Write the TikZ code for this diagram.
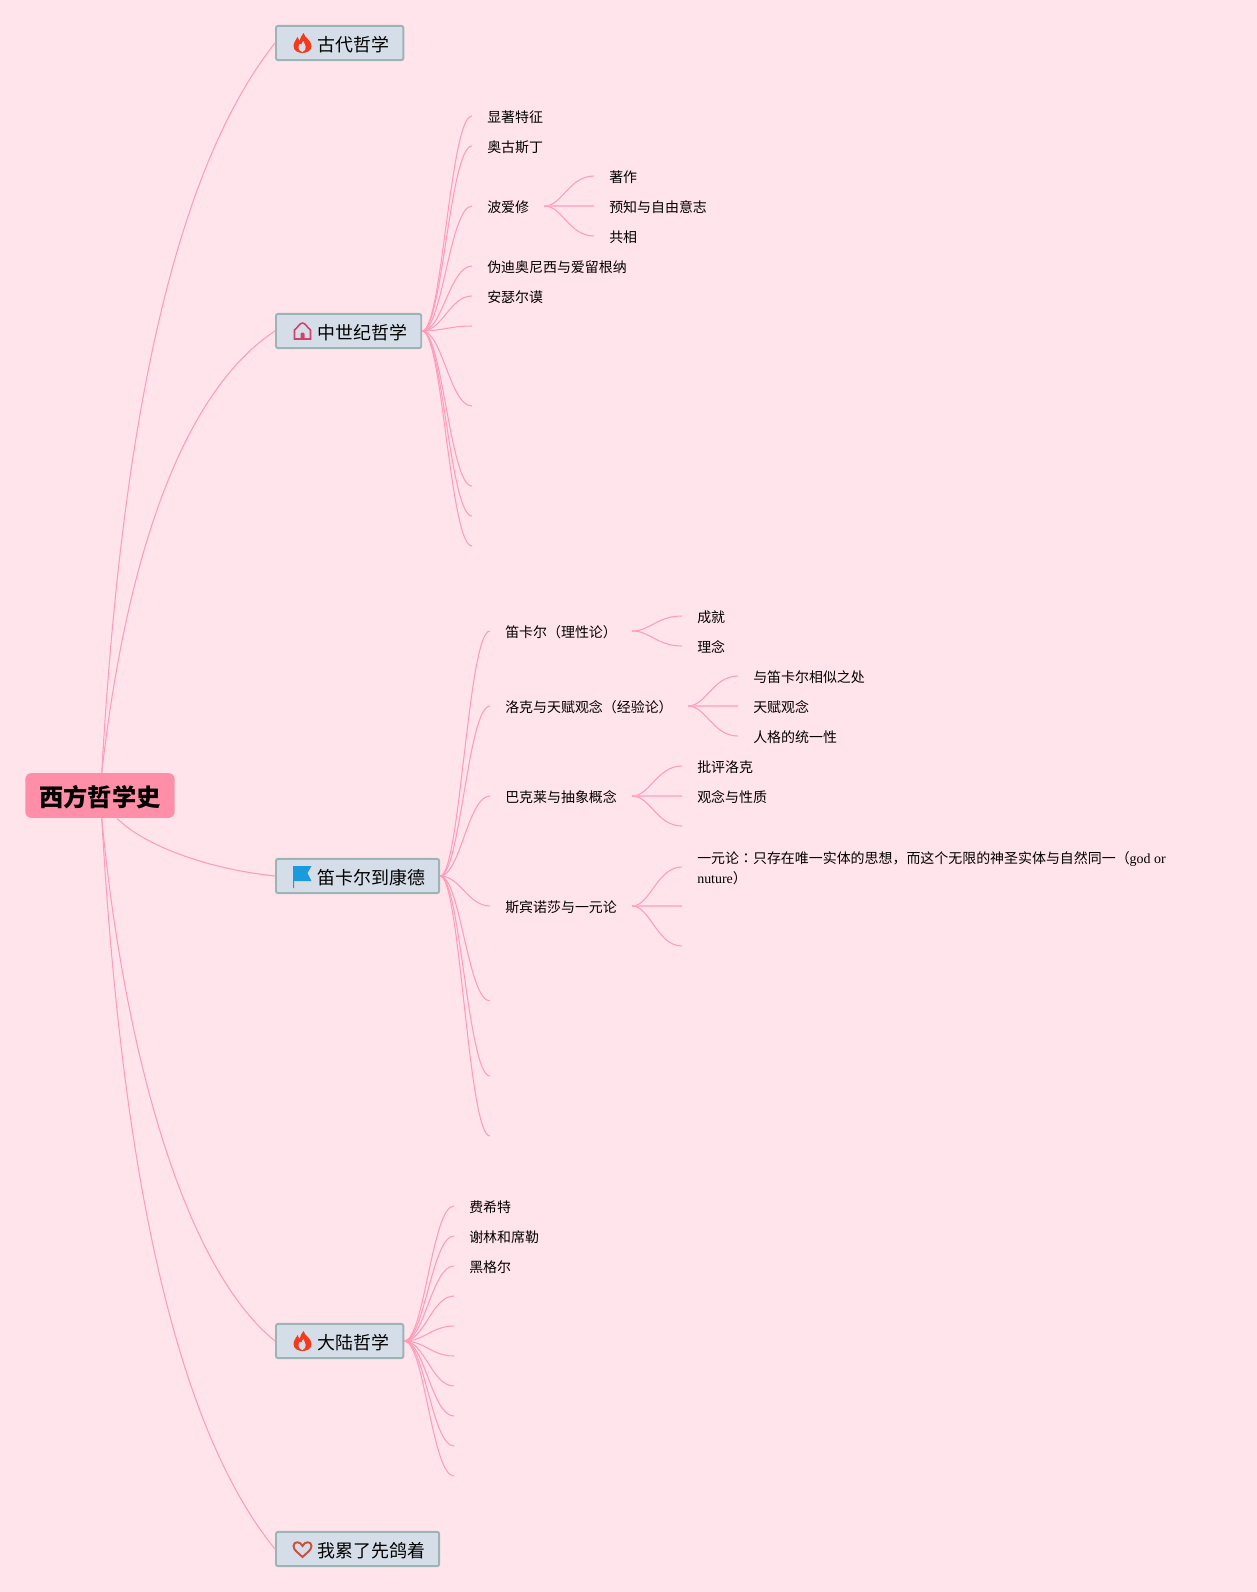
\documentclass[tikz,border=0pt]{standalone}
\usepackage{fontspec}
\setmainfont{Noto Sans CJK SC}
\newfontfamily\latinfont{Liberation Serif}
\newfontfamily\tcfont{Noto Sans CJK TC}
\usepackage{tikz}
\usetikzlibrary{calc}
\definecolor{paper}{HTML}{FFE4EC}
\definecolor{rootpink}{HTML}{FF8FA8}
\definecolor{linepink}{HTML}{FF9DB8}
\definecolor{topicfill}{HTML}{D5DDE8}
\definecolor{topicedge}{HTML}{9BB5B5}
\definecolor{flamered}{HTML}{F5391A}
\definecolor{housered}{HTML}{D4406E}
\definecolor{heartred}{HTML}{C9503F}
\definecolor{flagblue}{HTML}{1B9BDE}
\tikzset{
	rootnode/.style={fill=rootpink,rounded corners=3.4pt,minimum width=85pt,minimum height=25.5pt,inner sep=0pt,text height=13pt,text depth=0pt,font=\fontsize{13.8}{16}\selectfont\bfseries},
	topic/.style={anchor=west,draw=topicedge,fill=topicfill,line width=1.1pt,rounded corners=1.2pt,minimum height=19.5pt,inner ysep=0pt,inner xsep=3.4pt,text height=9.5pt,text depth=0pt,font=\fontsize{10.2}{12}\selectfont,execute at begin node={\hspace{20.4pt}},execute at end node={\hspace{4.5pt}}},
	leaf/.style={anchor=west,inner xsep=8.5pt,inner ysep=0pt,font=\fontsize{7.94}{11.34}\selectfont,text height=7.2pt,text depth=0pt},
	branch/.style={draw=linepink,line width=0.6pt},
	straightbranch/.style={draw=linepink!75,line width=1pt},
	flameicon/.pic={
		\fill[flamered] (1,-10) .. controls (2,-5) and (9,-3) .. (9,3) .. controls (9,8) and (4,10) .. (0,10) .. controls (-4,10) and (-9,8) .. (-9,3) .. controls (-9,-1) and (-6,-3) .. (-5,-6) .. controls (-4,-4) and (-3.5,-3) .. (-3,-2) .. controls (-2,-5) and (-1,-8) .. (1,-10);
		\fill[topicfill] (0,9) .. controls (-4,8) and (-5,4) .. (-3,1) .. controls (-2,2) .. (-1,1.5) .. controls (-1,0) and (0,-1) .. (1,-2) .. controls (2,2) and (6,5) .. (0,9);
	},
	houseicon/.pic={
		\draw[color=housered,line width=0.9pt] (-8,8) -- (-8,-1) .. controls (-5,-3) and (-3,-8) .. (0,-8) .. controls (3,-8) and (5,-3) .. (8,-1) -- (8,8) -- cycle;
		\fill[housered] (-2,8) -- (-2,3) .. controls (-2,1) and (2,1) .. (2,3) -- (2,8) -- cycle;
	},
	hearticon/.pic={
		\draw[color=heartred,line width=1.1pt] (0,8) .. controls (-4,4) and (-9,1) .. (-9,-3) .. controls (-9,-8) and (-2,-8) .. (0,-3) .. controls (2,-8) and (9,-8) .. (9,-3) .. controls (9,1) and (4,4) .. (0,8) -- cycle;
	},
	flagicon/.pic={
		\fill[flagblue] (-9.5,-10) -- (9,-10) -- (5,-3) -- (9,5) -- (-8.5,5) -- (-8.5,12) -- (-9.5,12) -- cycle;
	},
}
\begin{document}
\begin{tikzpicture}[x=0.02cm,y=-0.02cm]
	\fill[paper] (0,0) rectangle (1257,1592);

	% main topics
	\node[rootnode] (Root) at (100,795.5) {西方哲学史};
	\node[topic] (Ancient) at (275,43) {古代哲学};
	\node[topic] (Medieval) at (275,331) {中世纪哲学};
	\node[topic] (Modern) at (275,876) {笛卡尔到康德};
	\node[topic] (Continental) at (275,1341) {大陆哲学};
	\node[topic] (Tired) at (275,1549) {我累了先鸽着};
	\pic at ($(Ancient.west)+(27.5,0)$) {flameicon};
	\pic at ($(Medieval.west)+(27.5,0)$) {houseicon};
	\pic at ($(Modern.west)+(27.5,0)$) {flagicon};
	\pic at ($(Continental.west)+(27.5,0)$) {flameicon};
	\pic at ($(Tired.west)+(27.5,0)$) {hearticon};

	\draw[branch] ([xshift=1pt]Root.north) .. controls +(20,-353) and +(-100,127) .. (Ancient.west);
	\draw[branch] ([xshift=1pt]Root.north) .. controls +(23,-203) and +(-97,64) .. (Medieval.west);
	\draw[branch] (Root.-53) .. controls +(23,24) and +(-75,-8) .. (Modern.west);
	\draw[branch] ([xshift=1pt]Root.south) .. controls +(20,212) and +(-97,-79) .. (Continental.west);
	\draw[branch] ([xshift=1pt]Root.south) .. controls +(20,352) and +(-100,-123) .. (Tired.west);

	% medieval
	\node[leaf] (Features) at (472,116) {显著特征};
	\node[leaf] (Augustine) at (472,146) {奥古斯丁};
	\node[leaf] (Boethius) at (472,206) {波爱修};
	\node[leaf] (Dionysius) at (472,266) {伪迪奥尼西与爱留根纳};
	\node[leaf] (Anselm) at (472,296) {安瑟尔谟};
	\coordinate (MedievalA) at (472,326);
	\coordinate (MedievalB) at (472,406);
	\coordinate (MedievalC) at (472,486);
	\coordinate (MedievalD) at (472,516);
	\coordinate (MedievalE) at (472,546);
	\draw[branch] (Medieval.east) .. controls +(20,0) and +(-22,0) .. (Features.west);
	\draw[branch] (Medieval.east) .. controls +(20,0) and +(-22,0) .. (Augustine.west);
	\draw[branch] (Medieval.east) .. controls +(20,0) and +(-22,0) .. (Boethius.west);
	\draw[branch] (Medieval.east) .. controls +(20,0) and +(-22,0) .. (Dionysius.west);
	\draw[branch] (Medieval.east) .. controls +(20,0) and +(-22,0) .. (Anselm.west);
	\draw[branch] (Medieval.east) .. controls +(20,0) and +(-22,0) .. (MedievalA);
	\draw[branch] (Medieval.east) .. controls +(20,0) and +(-22,0) .. (MedievalB);
	\draw[branch] (Medieval.east) .. controls +(20,0) and +(-22,0) .. (MedievalC);
	\draw[branch] (Medieval.east) .. controls +(20,0) and +(-22,0) .. (MedievalD);
	\draw[branch] (Medieval.east) .. controls +(20,0) and +(-22,0) .. (MedievalE);

	\node[leaf] (Works) at (594,176) {著作};
	\node[leaf] (Foreknow) at (594,206) {预知与自由意志};
	\node[leaf] (Universals) at (594,236) {共相};
	\draw[branch] (Boethius.east) .. controls +(18,0) and +(-25,0) .. (Works.west);
	\draw[straightbranch] (Boethius.east) -- (Foreknow.west);
	\draw[branch] (Boethius.east) .. controls +(18,0) and +(-25,0) .. (Universals.west);

	% descartes to kant
	\node[leaf] (Descartes) at (490,631) {笛卡尔（理性论）};
	\node[leaf] (Locke) at (490,706) {洛克与天赋观念（经验论）};
	\node[leaf] (Berkeley) at (490,796) {巴克莱与抽象概念};
	\node[leaf] (Spinoza) at (490,906) {斯宾诺莎与一元论};
	\coordinate (ModernA) at (490,1001);
	\coordinate (ModernB) at (490,1076);
	\coordinate (ModernC) at (490,1136);
	\draw[branch] (Modern.east) .. controls +(20,0) and +(-22,0) .. (Descartes.west);
	\draw[branch] (Modern.east) .. controls +(20,0) and +(-22,0) .. (Locke.west);
	\draw[branch] (Modern.east) .. controls +(20,0) and +(-22,0) .. (Berkeley.west);
	\draw[branch] (Modern.east) .. controls +(20,0) and +(-22,0) .. (Spinoza.west);
	\draw[branch] (Modern.east) .. controls +(20,0) and +(-22,0) .. (ModernA);
	\draw[branch] (Modern.east) .. controls +(20,0) and +(-22,0) .. (ModernB);
	\draw[branch] (Modern.east) .. controls +(20,0) and +(-22,0) .. (ModernC);

	\node[leaf] (Success) at (682,616) {成就};
	\node[leaf] (Idea) at (682,646) {理念};
	\draw[branch] (Descartes.east) .. controls +(18,0) and +(-25,0) .. (Success.west);
	\draw[branch] (Descartes.east) .. controls +(18,0) and +(-25,0) .. (Idea.west);

	\node[leaf] (Similar) at (738,676) {与笛卡尔相似之处};
	\node[leaf] (Innate) at (738,706) {天赋观念};
	\node[leaf] (Unity) at (738,736) {人格的统一性};
	\draw[branch] (Locke.east) .. controls +(18,0) and +(-25,0) .. (Similar.west);
	\draw[straightbranch] (Locke.east) -- (Innate.west);
	\draw[branch] (Locke.east) .. controls +(18,0) and +(-25,0) .. (Unity.west);

	\node[leaf] (Critique) at (682,766) {批评洛克};
	\node[leaf] (Quality) at (682,796) {观念与性质};
	\coordinate (BerkeleyA) at (682,826);
	\draw[branch] (Berkeley.east) .. controls +(18,0) and +(-25,0) .. (Critique.west);
	\draw[straightbranch] (Berkeley.east) -- (Quality.west);
	\draw[branch] (Berkeley.east) .. controls +(18,0) and +(-25,0) .. (BerkeleyA);

	\node[leaf,align=left,text height=18.54pt] (Monism) at (682,867) {一元论{\tcfont ：}只存在唯一实体的思想，而这个无限的神圣实体与自然同一（{\latinfont god or}\\{\latinfont nuture}）};
	\coordinate (SpinozaA) at (682,906);
	\coordinate (SpinozaB) at (682,946);
	\draw[branch] (Spinoza.east) .. controls +(18,0) and +(-25,0) .. (Monism.west);
	\draw[straightbranch] (Spinoza.east) -- (SpinozaA);
	\draw[branch] (Spinoza.east) .. controls +(18,0) and +(-25,0) .. (SpinozaB);

	% continental
	\node[leaf] (Fichte) at (454,1206) {费希特};
	\node[leaf] (Schelling) at (454,1236) {谢林和席勒};
	\node[leaf] (Hegel) at (454,1266) {黑格尔};
	\coordinate (ContA) at (454,1296);
	\coordinate (ContB) at (454,1326);
	\coordinate (ContC) at (454,1356);
	\coordinate (ContD) at (454,1386);
	\coordinate (ContE) at (454,1416);
	\coordinate (ContF) at (454,1446);
	\coordinate (ContG) at (454,1476);
	\draw[branch] (Continental.east) .. controls +(20,0) and +(-22,0) .. (Fichte.west);
	\draw[branch] (Continental.east) .. controls +(20,0) and +(-22,0) .. (Schelling.west);
	\draw[branch] (Continental.east) .. controls +(20,0) and +(-22,0) .. (Hegel.west);
	\draw[branch] (Continental.east) .. controls +(20,0) and +(-22,0) .. (ContA);
	\draw[branch] (Continental.east) .. controls +(20,0) and +(-22,0) .. (ContB);
	\draw[branch] (Continental.east) .. controls +(20,0) and +(-22,0) .. (ContC);
	\draw[branch] (Continental.east) .. controls +(20,0) and +(-22,0) .. (ContD);
	\draw[branch] (Continental.east) .. controls +(20,0) and +(-22,0) .. (ContE);
	\draw[branch] (Continental.east) .. controls +(20,0) and +(-22,0) .. (ContF);
	\draw[branch] (Continental.east) .. controls +(20,0) and +(-22,0) .. (ContG);
\end{tikzpicture}
\end{document}
